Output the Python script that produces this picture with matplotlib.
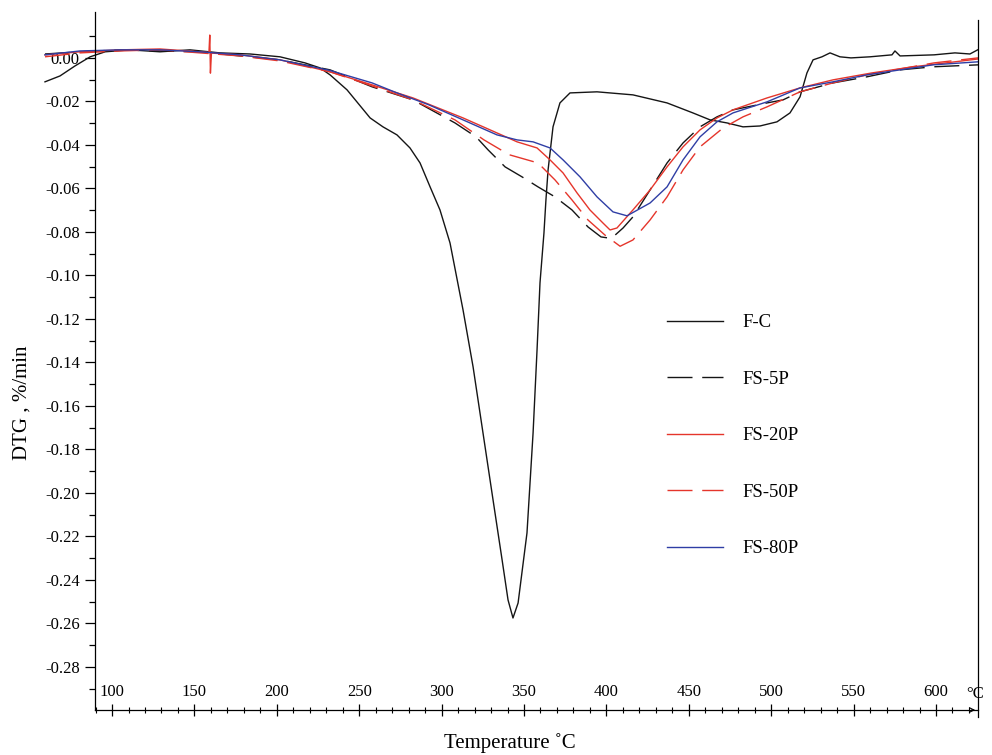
import matplotlib.pyplot as plt
from matplotlib.ticker import FormatStrFormatter

plt.rcParams['font.family'] = ['Liberation Serif', 'DejaVu Serif']
plt.rcParams['axes.unicode_minus'] = False

# -------------------------
# data (temperature in C, DTG in %/min)
# -------------------------
t_fc = [59.3, 68.4, 77.5, 86.7, 95.8, 110.9, 129.1, 147.3, 165.5, 183.7, 201.9, 217.1, 226.2,
        232.3, 242.6, 256.6, 264.4, 272.9, 280.8, 286.9, 293.0, 299.0, 305.1, 313.0, 319.1,
        325.1, 331.2, 336.7, 340.3, 343.3, 346.4, 351.8, 355.5, 357.9, 359.7, 362.1, 363.3,
        364.6, 367.6, 371.8, 377.9, 394.3, 416.1, 436.8, 452.5, 462.9, 473.2, 482.9, 493.2,
        503.5, 511.4, 517.5, 521.7, 525.4, 530.8, 535.7, 541.7, 548.4, 560.0, 573.3, 575.1,
        578.2, 598.8, 611.5, 620.6, 625.3]
dtg_fc = [-0.0110, -0.0083, -0.0037, 0.0005, 0.0028, 0.0037, 0.0028, 0.0037, 0.0023, 0.0018,
          0.0005, -0.0023, -0.0046, -0.0078, -0.0147, -0.0276, -0.0317, -0.0354, -0.0414,
          -0.0483, -0.0593, -0.0699, -0.0851, -0.1159, -0.1421, -0.1724, -0.2032, -0.2308,
          -0.2492, -0.2575, -0.2506, -0.2184, -0.1724, -0.1343, -0.1034, -0.0805, -0.0653,
          -0.0515, -0.0317, -0.0207, -0.0161, -0.0156, -0.0170, -0.0207, -0.0253, -0.0285,
          -0.0299, -0.0317, -0.0313, -0.0294, -0.0253, -0.0179, -0.0069, -0.0009, 0.0005,
          0.0023, 0.0005, 0.0000, 0.0005, 0.0014, 0.0032, 0.0009, 0.0014, 0.0023, 0.0018, 0.0037]

t_5p = [59.3, 80.6, 104.9, 129.1, 153.4, 177.7, 201.9, 232.3, 257.8, 282.6, 308.1, 320.9,
        328.2, 338.5, 348.8, 358.5, 368.8, 379.1, 388.8, 396.7, 403.0, 410.1, 416.1, 426.5,
        436.8, 446.5, 456.8, 467.1, 476.8, 497.5, 507.2, 517.5, 537.5, 558.1, 578.2, 598.2, 625.5]
dtg_5p = [0.0018, 0.0028, 0.0037, 0.0032, 0.0028, 0.0009, -0.0009, -0.0055, -0.0133, -0.0193,
          -0.0299, -0.0363, -0.0423, -0.0501, -0.0547, -0.0593, -0.0639, -0.0699, -0.0777,
          -0.0823, -0.0830, -0.0782, -0.0731, -0.0607, -0.0483, -0.0391, -0.0317, -0.0271,
          -0.0239, -0.0207, -0.0193, -0.0156, -0.0115, -0.0087, -0.0055, -0.0041, -0.0032]

t_20p = [59.3, 80.6, 104.9, 129.1, 153.4, 158.8, 159.3, 159.7, 160.3, 177.7, 201.9, 232.3,
         257.8, 282.6, 313.0, 333.6, 345.8, 357.9, 365.8, 373.7, 382.2, 390.0, 397.9, 402.2,
         406.4, 416.1, 426.5, 436.8, 446.5, 456.8, 467.1, 476.8, 497.5, 517.5, 537.5, 561.2,
         586.0, 611.5, 625.5]
dtg_20p = [0.0014, 0.0028, 0.0037, 0.0041, 0.0028, 0.0025, 0.0105, -0.0070, 0.0022, 0.0014,
           -0.0009, -0.0064, -0.0124, -0.0184, -0.0276, -0.0345, -0.0386, -0.0414, -0.0469,
           -0.0529, -0.0621, -0.0699, -0.0759, -0.0791, -0.0782, -0.0699, -0.0607, -0.0501,
           -0.0409, -0.0331, -0.0276, -0.0239, -0.0184, -0.0138, -0.0101, -0.0069, -0.0041,
           -0.0018, -0.0005]

t_50p = [59.3, 80.6, 104.9, 129.1, 153.4, 177.7, 201.9, 232.3, 257.8, 282.6, 308.1, 325.7,
         340.9, 358.5, 368.8, 379.1, 388.8, 399.2, 408.3, 416.1, 426.5, 436.8, 446.5, 456.8,
         470.8, 482.9, 497.5, 517.5, 537.5, 558.1, 598.8, 625.5]
dtg_50p = [0.0005, 0.0023, 0.0032, 0.0037, 0.0023, 0.0009, -0.0014, -0.0064, -0.0129, -0.0193,
           -0.0285, -0.0377, -0.0445, -0.0483, -0.0561, -0.0653, -0.0745, -0.0815, -0.0866,
           -0.0837, -0.0745, -0.0639, -0.0515, -0.0409, -0.0322, -0.0271, -0.0225, -0.0156,
           -0.0115, -0.0078, -0.0023, 0.0000]

t_80p = [59.3, 80.6, 104.9, 129.1, 153.4, 177.7, 201.9, 232.3, 257.8, 272.9, 292.0, 313.0,
         333.6, 345.8, 355.5, 365.8, 373.7, 384.0, 394.3, 404.0, 412.5, 426.5, 436.8, 446.5,
         456.8, 467.1, 476.8, 497.5, 517.5, 537.5, 558.1, 578.2, 598.2, 625.5]
dtg_80p = [0.0014, 0.0032, 0.0037, 0.0037, 0.0028, 0.0014, -0.0009, -0.0058, -0.0115, -0.0161,
           -0.0215, -0.0285, -0.0354, -0.0377, -0.0386, -0.0414, -0.0469, -0.0547, -0.0639,
           -0.0708, -0.0726, -0.0667, -0.0593, -0.0469, -0.0363, -0.0294, -0.0253, -0.0202,
           -0.0138, -0.0110, -0.0078, -0.0055, -0.0032, -0.0018]

labels = ["F-C", "FS-5P", "FS-20P", "FS-50P", "FS-80P"]
x_ticks = [100, 150, 200, 250, 300, 350, 400, 450, 500, 550, 600]

BLACK = "#151515"
RED = "#e5352b"
BLUE = "#2f3ea5"
DASH = (0, (18, 7))
LW = 1.0

# -------------------------
# figure
# -------------------------
fig = plt.figure(figsize=(9.92, 7.55), dpi=100)
ax = fig.add_axes([44 / 992, 45 / 755, 934 / 992, 698 / 755])

ax.plot(t_fc, dtg_fc, color=BLACK, lw=LW, label=labels[0])
ax.plot(t_5p, dtg_5p, color=BLACK, lw=LW, ls=DASH, label=labels[1])
ax.plot(t_20p, dtg_20p, color=RED, lw=LW, label=labels[2])
ax.plot(t_50p, dtg_50p, color=RED, lw=LW, ls=DASH, label=labels[3])
ax.plot(t_80p, dtg_80p, color=BLUE, lw=LW, label=labels[4])

ax.set_xlim(58.7, 625.5)
ax.set_ylim(-0.2998, 0.0211)

# spines: y axis sits inside at ~90 C, x axis ends with an arrow
ax.spines['top'].set_visible(False)
ax.spines['left'].set_position(('data', 89.7))
ax.spines['bottom'].set_bounds(89.7, 625.5)
ax.spines['right'].set_bounds(-0.303, 0.0175)
for s in ax.spines.values():
    s.set_linewidth(0.9)
ax.annotate('', xy=(1.0, 0), xytext=(0.99, 0), xycoords='axes fraction',
            arrowprops=dict(arrowstyle='->', lw=0.8, color='k', mutation_scale=8))

# y ticks
ax.set_yticks([i * 0.02 for i in range(-14, 1)])
ax.set_yticks([i * 0.02 + 0.01 for i in range(-15, 1)], minor=True)
ax.yaxis.set_major_formatter(FormatStrFormatter('%.2f'))
ax.tick_params(axis='y', which='major', direction='out', length=7, width=0.9, pad=4, labelsize=12)
ax.tick_params(axis='y', which='minor', direction='out', length=4, width=0.9)

# x ticks, labels sit above the axis line
ax.set_xticks(x_ticks)
ax.set_xticks(list(range(90, 630, 10)), minor=True)
ax.tick_params(axis='x', which='major', direction='inout', length=8, width=0.9, pad=-11, labelsize=12)
ax.tick_params(axis='x', which='minor', direction='inout', length=5, width=0.8)
for lab in ax.get_xticklabels():
    lab.set_va('bottom')

ax.text(0.9965, 0.011, '°C', transform=ax.transAxes, ha='center', va='bottom', fontsize=12)

fig.text(510 / 992, (755 - 743) / 755, 'Temperature ˚C', ha='center', va='center', fontsize=15)
fig.text(22 / 992, 1 - 403 / 755, 'DTG , %/min', rotation=90, ha='center', va='center', fontsize=15)

ax.legend(loc='upper left', bbox_to_anchor=(0.667, 0.567), frameon=False, fontsize=13.5,
          handlelength=3.0, handletextpad=1.0, labelspacing=2.1, borderpad=0, borderaxespad=0)

plt.savefig('out.png', dpi=100)
